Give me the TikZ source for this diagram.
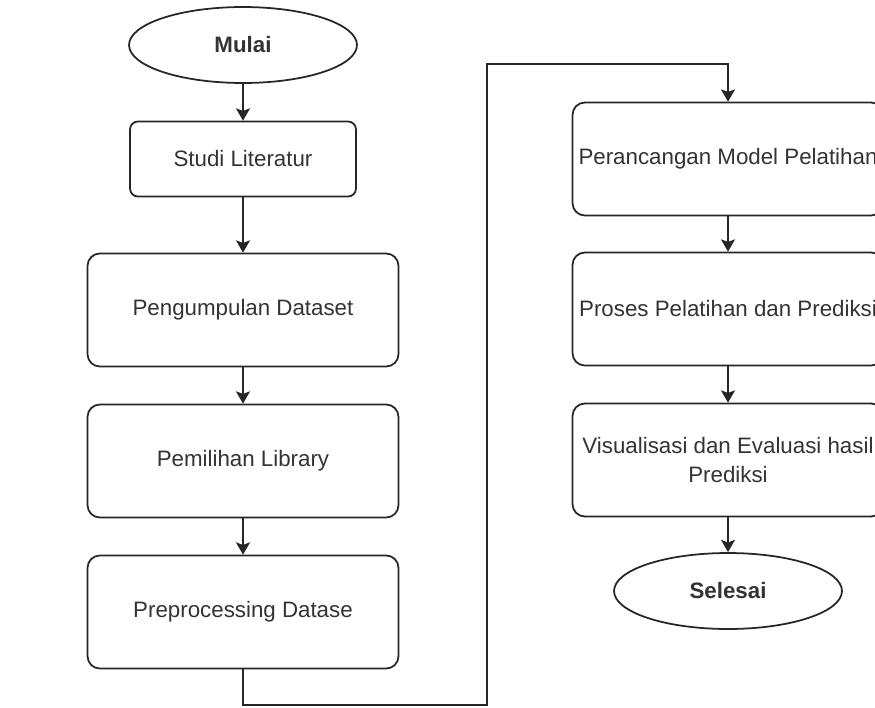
\documentclass[tikz,border=0pt]{standalone}
\usepackage{fontspec}
\setmainfont{Liberation Sans}
\usetikzlibrary{shapes.geometric, arrows.meta}

\begin{document}
\begin{tikzpicture}[x=0.02cm, y=-0.02cm,
		garis/.style={line width=1pt, draw=black!85},
		panah/.style={garis, -{Stealth[length=7pt, width=8pt, inset=1.5pt]}},
		teks/.style={text=black!80, font=\fontsize{12.7}{16}\selectfont, align=center, inner sep=0pt},
		kotak/.style={garis, teks, rectangle, rounded corners=7pt, minimum width=6.22cm, minimum height=2.26cm},
		kotakkecil/.style={garis, teks, rectangle, rounded corners=4.5pt, minimum width=4.52cm, minimum height=1.5cm},
		terminal/.style={garis, teks, ellipse, minimum width=4.56cm, minimum height=1.52cm, font=\fontsize{12.7}{16}\selectfont\bfseries}]
	\def\xKIRI{243};
	\def\xKANAN{728};

	\useasboundingbox (0,0) rectangle (875,707);
	\clip (0,0) rectangle (875,707);

	% kolom kiri
	\begin{scope}
		\node [terminal] (mulai) at (\xKIRI,45) {Mulai};
		\node [kotakkecil] (studi) at (\xKIRI,159) {Studi Literatur};
		\node [kotak] (kumpul) at (\xKIRI,310) {Pengumpulan Dataset};
		\node [kotak] (pilih) at (\xKIRI,461) {Pemilihan Library};
		\node [kotak] (prepro) at (\xKIRI,612) {Preprocessing Datase};
	\end{scope}

	% kolom kanan
	\begin{scope}
		\node [kotak] (rancang) at (\xKANAN,159) {Perancangan Model Pelatihan};
		\node [kotak] (latih) at (\xKANAN,309) {Proses Pelatihan dan Prediksi};
		\node [kotak] (visual) at (\xKANAN,460) {Visualisasi dan Evaluasi hasil\\Prediksi};
		\node [terminal] (selesai) at (\xKANAN,591) {Selesai};
	\end{scope}

	\begin{scope}
		\foreach \a/\b in {mulai/studi, studi/kumpul, kumpul/pilih, pilih/prepro, rancang/latih, latih/visual, visual/selesai}
		{
			\draw [panah] (\a.south) -- (\b.north);
		}

		\coordinate (bawah) at (487,705);
		\coordinate (atas) at (487,64);
		\draw [panah] (prepro.south) |- (bawah) -- (atas) -| (rancang.north);
	\end{scope}
\end{tikzpicture}
\end{document}
